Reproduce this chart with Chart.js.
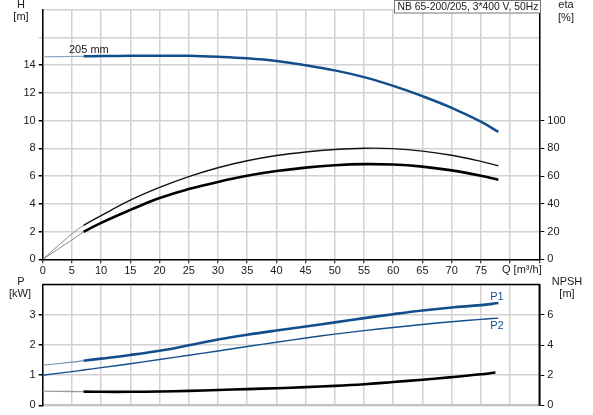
<!DOCTYPE html>
<html><head><meta charset="utf-8">
<script src="https://cdn.jsdelivr.net/npm/chart.js@4.4.1/dist/chart.umd.min.js"></script>
<style>
html,body{margin:0;padding:0;background:#fff;}
#wrap{position:relative;width:593px;height:415px;overflow:hidden;background:#fff;}
#c1{position:absolute;left:0;top:0;}
#c2{position:absolute;left:0;top:275px;}
</style></head><body>
<div id="wrap"><canvas id="c1" width="593" height="278"></canvas><canvas id="c2" width="593" height="140"></canvas></div>
<script>
// ---- data ----
const flow      = [0, 5, 7, 10, 15, 20, 25, 30, 35, 40, 45, 50, 55, 60, 65, 70, 75, 78];
const head205   = [14.6, 14.62, 14.63, 14.65, 14.67, 14.68, 14.67, 14.6, 14.49, 14.3, 13.99, 13.62, 13.13, 12.5, 11.76, 10.92, 9.92, 9.18];
const etaUpper  = [0, 18.3, 24.4, 31.5, 42.6, 51.8, 59.6, 66.0, 71.0, 74.8, 77.4, 79.2, 80.1, 79.8, 78.0, 75.0, 70.6, 67.4];
const etaLower  = [0, 14, 19.7, 26.3, 35.6, 44.2, 50.6, 55.8, 60.2, 63.6, 66.1, 67.8, 68.6, 68.3, 66.8, 64.1, 60.3, 57.4];
const powerP1   = [1.33, 1.43, 1.48, 1.55, 1.67, 1.81, 1.99, 2.18, 2.34, 2.48, 2.61, 2.75, 2.89, 3.02, 3.14, 3.24, 3.32, 3.39];
const powerP2   = [1.0, 1.12, 1.17, 1.25, 1.38, 1.52, 1.66, 1.8, 1.95, 2.09, 2.23, 2.36, 2.475, 2.58, 2.68, 2.77, 2.85, 2.89];
const flowNpsh  = [0, 5, 7, 10, 15, 20, 25, 30, 35, 40, 45, 50, 55, 60, 65, 70, 75, 77.5];
const npsh      = [0.94, 0.92, 0.91, 0.9, 0.9, 0.92, 0.96, 1.02, 1.08, 1.14, 1.21, 1.29, 1.4, 1.55, 1.7, 1.87, 2.06, 2.18];
const qRange    = [0, 85];
const hRange    = [0, 18];
const etaRange  = [0, 180];
const pRange    = [0, 4];
const npshRange = [0, 8];
const titleText = 'NB 65-200/205, 3*400 V, 50Hz';

// ---- styling ----
const FONT = "'Liberation Sans', Arial, sans-serif";
Chart.defaults.font.family = FONT;
Chart.defaults.font.size = 11;
Chart.defaults.color = '#1a1a1a';
Chart.defaults.animation = false;
const BLUE = '#124e8c';
const GRID = '#d2d2d2';
const SPLIT = 7;
const pts = (xs, ys) => xs.map((x, i) => ({x: x, y: ys[i]}));
const lead = (cThin, cThick, wThin, wThick) => ({
  borderColor: c => c.p0.parsed.x < SPLIT - 0.01 ? cThin : cThick,
  borderWidth: c => c.p0.parsed.x < SPLIT - 0.01 ? wThin : wThick
});
const line = (data, axis, color, w, seg) => ({
  data: data, yAxisID: axis, borderColor: color, borderWidth: w,
  pointRadius: 0, fill: false, tension: 0.4, segment: seg
});
function text(ctx, s, x, y, align, color, size) {
  ctx.save();
  ctx.font = (size || 11) + 'px ' + FONT;
  ctx.fillStyle = color || '#1a1a1a';
  ctx.textAlign = align || 'left';
  ctx.textBaseline = 'middle';
  ctx.fillText(s, x, y);
  ctx.restore();
}
const fit = w => s => { s.width = w; };
const fitH = h => s => { s.height = h; };

// ---- top chart: H and eta ----
new Chart(document.getElementById('c1'), {
  type: 'line',
  data: { datasets: [
    line(pts(flow, head205), 'y', BLUE, 2.5, lead('#8aa3c4', BLUE, 1.2, 2.5)),
    line(pts(flow, etaUpper), 'y2', '#111', 1.3, lead('#8a8a8a', '#111', 1, 1.4)),
    line(pts(flow, etaLower), 'y2', '#000', 2.6, lead('#8a8a8a', '#000', 1, 2.6))
  ]},
  options: {
    responsive: false,
    layout: { padding: { top: 1, left: 0, right: 0, bottom: 0 } },
    plugins: { legend: { display: false }, tooltip: { enabled: false } },
    scales: {
      x: { type: 'linear', min: qRange[0], max: qRange[1], afterFit: fitH(18.7),
        ticks: { stepSize: 5, padding: 1, maxRotation: 0, autoSkip: false,
          callback: v => (v >= 80 ? '' : v) },
        grid: { color: GRID, lineWidth: 1.5, tickLength: 4, tickColor: '#000', tickWidth: 1 },
        border: { color: '#000', width: 1.5 } },
      y: { position: 'left', min: hRange[0], max: hRange[1], afterFit: fit(42.7),
        ticks: { stepSize: 2, padding: 3, callback: v => (v <= 14 ? v : '') },
        grid: { color: GRID, lineWidth: 1.5, tickLength: 4,
          tickColor: c => (c.tick && c.tick.value > 14 ? (c.tick.value > 16 ? 'rgba(0,0,0,0)' : GRID) : '#000') },
        border: { color: '#000', width: 1.5 } },
      y2: { position: 'right', min: etaRange[0], max: etaRange[1], afterFit: fit(53.7),
        ticks: { stepSize: 20, padding: 3, callback: v => (v <= 100 ? v : '') },
        grid: { drawOnChartArea: false, tickLength: 5,
          tickColor: c => (c.tick && c.tick.value > 100 ? 'rgba(0,0,0,0)' : '#000') },
        border: { color: '#000', width: 1.5 } }
    }
  },
  plugins: [{
    id: 'labels1',
    afterDraw(chart) {
      const ctx = chart.ctx, sx = chart.scales.x, sy = chart.scales.y;
      text(ctx, 'H', 21, 4.5, 'center');
      text(ctx, '[m]', 21, 17, 'center');
      text(ctx, 'eta', 566, 5, 'center');
      text(ctx, '[%]', 566, 17.5, 'center');
      text(ctx, '205 mm', sx.getPixelForValue(4.5), sy.getPixelForValue(15.06), 'left');
      text(ctx, 'Q [m³/h]', 502, 270, 'left');
      ctx.save();
      ctx.fillStyle = '#fff';
      ctx.strokeStyle = '#777';
      ctx.lineWidth = 1;
      ctx.fillRect(394.5, 0.5, 146, 12.5);
      ctx.strokeRect(394.5, 0.5, 146, 12.5);
      ctx.restore();
      ctx.save();
      ctx.font = '11px ' + FONT;
      let w = ctx.measureText(titleText).width;
      ctx.restore();
      const sz = Math.min(11, 11 * 141 / w);
      text(ctx, titleText, 397.5, 7, 'left', '#1a1a1a', sz);
    }
  }]
});

// ---- bottom chart: P and NPSH ----
new Chart(document.getElementById('c2'), {
  type: 'line',
  data: { datasets: [
    line(pts(flow, powerP1), 'y', BLUE, 2.6, lead('#6f8fb8', BLUE, 1.2, 2.6)),
    line(pts(flow, powerP2), 'y', BLUE, 1.4, lead(BLUE, BLUE, 1.4, 1.4)),
    line(pts(flowNpsh, npsh), 'y2', '#000', 2.6, lead('#999', '#000', 1.3, 2.6))
  ]},
  options: {
    responsive: false,
    layout: { padding: { top: 2.7, left: 0, right: 0, bottom: 0 } },
    plugins: { legend: { display: false }, tooltip: { enabled: false } },
    scales: {
      x: { type: 'linear', min: qRange[0], max: qRange[1], afterFit: fitH(8.3),
        ticks: { display: false, stepSize: 5 },
        grid: { color: GRID, lineWidth: 1.5, drawTicks: false },
        border: { color: '#c4c4c4', width: 2 } },
      y: { position: 'left', min: pRange[0], max: pRange[1], afterFit: fit(42.7),
        ticks: { stepSize: 1, padding: 3, callback: v => (v <= 3 ? v : '') },
        grid: { color: GRID, lineWidth: 1.5, tickLength: 4,
          tickColor: c => (c.tick && c.tick.value > 3 ? 'rgba(0,0,0,0)' : '#000') },
        border: { color: '#000', width: 1.5 } },
      y2: { position: 'right', min: npshRange[0], max: npshRange[1], afterFit: fit(53.7),
        ticks: { stepSize: 2, padding: 3, callback: v => (v <= 6 ? v : '') },
        grid: { drawOnChartArea: false, tickLength: 5,
          tickColor: c => (c.tick && c.tick.value > 6 ? 'rgba(0,0,0,0)' : '#000') },
        border: { color: '#000', width: 1.5 } }
    }
  },
  plugins: [{
    id: 'labels2',
    afterDraw(chart) {
      const ctx = chart.ctx, a = chart.chartArea, sx = chart.scales.x, sy = chart.scales.y;
      ctx.save();
      ctx.strokeStyle = '#000';
      ctx.lineWidth = 1.5;
      ctx.beginPath();
      ctx.moveTo(a.left, a.top);
      ctx.lineTo(a.right, a.top);
      ctx.lineTo(a.right, a.bottom);
      ctx.stroke();
      ctx.restore();
      text(ctx, 'P', 21, 7, 'center');
      text(ctx, '[kW]', 20, 19, 'center');
      text(ctx, 'NPSH', 567, 7, 'center');
      text(ctx, '[m]', 567, 19, 'center');
      text(ctx, 'P1', sx.getPixelForValue(76.6), sy.getPixelForValue(3.59), 'left', BLUE);
      text(ctx, 'P2', sx.getPixelForValue(76.6), sy.getPixelForValue(2.64), 'left', BLUE);
    }
  }]
});
</script>
</body></html>
